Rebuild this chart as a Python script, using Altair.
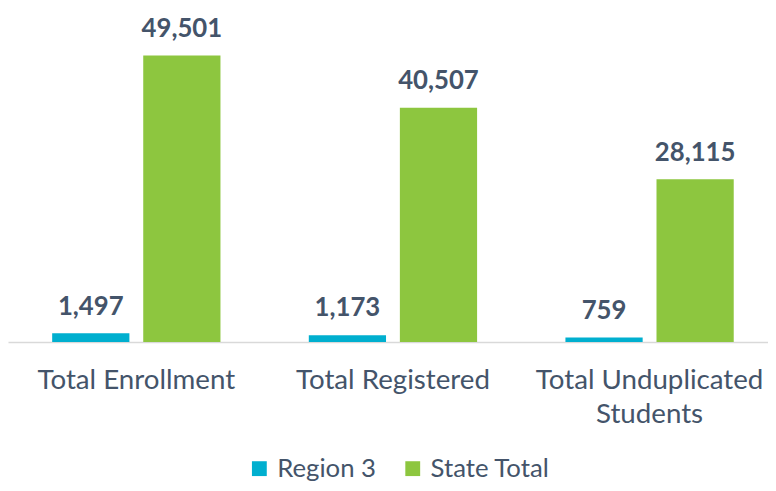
import altair as alt
import pandas as pd

categories = ["Total Enrollment", "Total Registered", "Total Unduplicated Students"]
series = ["Region 3", "State Total"]
region3 = [1497, 1173, 759]
state_total = [49501, 40507, 28115]
colors = ["#00AFCF", "#8DC63F"]

rows = []
for c, r, s in zip(categories, region3, state_total):
    rows.append({"category": c, "series": series[0], "value": r})
    rows.append({"category": c, "series": series[1], "value": s})
df = pd.DataFrame(rows)

TXT = "#44546A"
FONT = "Lato"

x = alt.X(
    "category:N",
    sort=categories,
    title=None,
    scale=alt.Scale(range=[0, 778], paddingInner=0, paddingOuter=0),
    axis=alt.Axis(
        labelAngle=0,
        ticks=False,
        domainColor="#D9D9D9",
        domainWidth=1.5,
        labelFont=FONT,
        labelFontSize=28,
        labelColor=TXT,
        labelPadding=25,
        labelLineHeight=34,
        labelLimit=500,
        labelOverlap=False,
        labelExpr="datum.value == 'Total Unduplicated Students' ? ['Total Unduplicated', 'Students'] : datum.label",
    ),
)
xo = alt.XOffset("series:N", sort=series,
                 scale=alt.Scale(paddingInner=0.152, paddingOuter=0.485))
y = alt.Y("value:Q", axis=None, scale=alt.Scale(domain=[0, 57300], nice=False, zero=True))

bars = alt.Chart(df).mark_bar().encode(
    x=x, xOffset=xo, y=y,
    color=alt.Color(
        "series:N",
        sort=series,
        scale=alt.Scale(domain=series, range=colors),
        legend=alt.Legend(
            orient="none", legendX=241, legendY=450, direction="horizontal",
            columns=2, title=None, symbolType="square", symbolSize=225,
            symbolStrokeWidth=0, labelFont=FONT, labelFontSize=26,
            labelColor=TXT, labelOffset=5, columnPadding=24, padding=0,
        ),
    ),
)

labels = alt.Chart(df).mark_text(
    font=FONT, fontSize=26, fontWeight="bold", color=TXT,
    baseline="alphabetic", align="center", dy=-19,
).encode(x=x, xOffset=xo, y=y, text=alt.Text("value:Q", format=",d"))

chart = (
    alt.layer(bars, labels)
    .properties(
        width=768, height=335,
        autosize=alt.AutoSizeParams(type="none"),
        padding={"left": 0, "top": 0, "right": 0, "bottom": 140},
    )
    .configure_view(stroke=None)
)

chart.save("out.html", embed_options={"renderer": "svg", "actions": False})
